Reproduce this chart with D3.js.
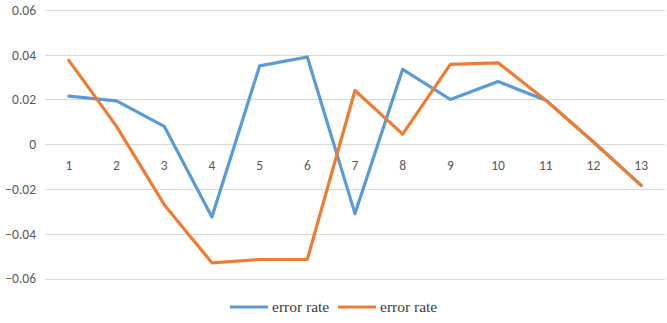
<!DOCTYPE html>
<html><head><meta charset="utf-8">
<script src="https://cdn.jsdelivr.net/npm/d3@7"></script>
<style>body{margin:0;background:#fff}svg{display:block}</style>
</head><body>
<svg id="c" width="667" height="323"></svg>
<script>
const categories = ["1","2","3","4","5","6","7","8","9","10","11","12","13"];
const seriesBlue = [0.0215,0.0194,0.008,-0.0325,0.035,0.039,-0.031,0.0335,0.020,0.028,0.0197,0.001,-0.0184];
const seriesOrange = [0.0375,0.008,-0.027,-0.053,-0.0515,-0.0515,0.024,0.0045,0.0357,0.0364,0.0197,0.001,-0.0184];
const seriesNames = ["error rate","error rate"];
const yTicks = [0.06,0.04,0.02,0,-0.02,-0.04,-0.06];
const colors = ["#5b9bd5","#ed7d31"];

const svg = d3.select("#c");
const x = d3.scaleBand().domain(categories).range([45,665]);
const y = d3.scaleLinear().domain([-0.06,0.06]).range([278.5,10]);

svg.append("g").selectAll("line").data(yTicks).join("line")
  .attr("x1",45).attr("x2",665)
  .attr("y1",d=>Math.round(y(d))+0.5).attr("y2",d=>Math.round(y(d))+0.5)
  .attr("stroke","#d9d9d9").attr("stroke-width",1);

const yAxis = d3.axisLeft(y).tickValues(yTicks).tickSize(0).tickPadding(0)
  .tickFormat(d=>d===0?"0":d3.format(".2f")(d));
const ga = svg.append("g").attr("transform","translate(36,0)").call(yAxis);
ga.select(".domain").remove();
ga.selectAll("text").attr("fill","#595959").style("font-family","Carlito, 'Open Sans', sans-serif").style("font-size","13.5px");

const xAxis = d3.axisBottom(x).tickSize(0).tickPadding(0);
const gx = svg.append("g").attr("transform",`translate(0,${y(0)+16})`).call(xAxis);
gx.select(".domain").remove();
gx.selectAll("text").attr("fill","#595959").style("font-family","Carlito, 'Open Sans', sans-serif").style("font-size","13.5px");

const line = d3.line().x((d,i)=>x(categories[i])+x.bandwidth()/2).y(d=>y(d));
[seriesBlue, seriesOrange].forEach((s,k)=>{
  svg.append("path").datum(s).attr("d",line).attr("fill","none")
    .attr("stroke",colors[k]).attr("stroke-width",3.2).attr("stroke-linejoin","round").attr("stroke-linecap","round");
});

const leg = svg.append("g");
const legX = [230,338];
seriesNames.forEach((n,k)=>{
  leg.append("line").attr("x1",legX[k]).attr("x2",legX[k]+38).attr("y1",307).attr("y2",307)
    .attr("stroke",colors[k]).attr("stroke-width",3.2);
  leg.append("text").attr("x",legX[k]+42).attr("y",312).text(n)
    .attr("fill","#404040").style("font-family","'Liberation Serif', 'DejaVu Serif', serif").style("font-size","15.5px");
});
</script>
</body></html>
